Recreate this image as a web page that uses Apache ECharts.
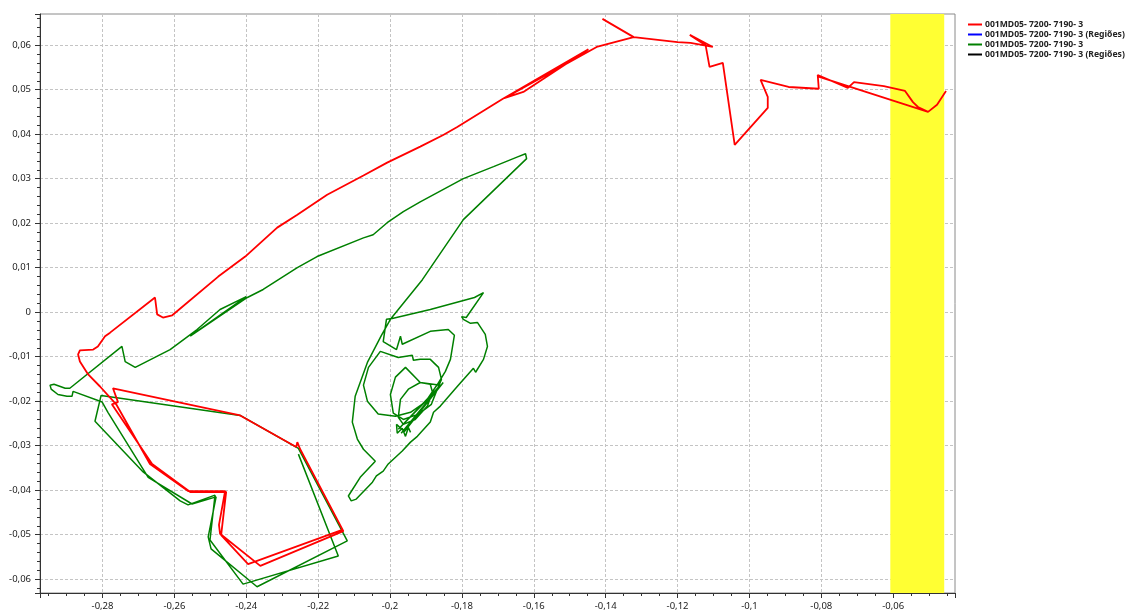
<!DOCTYPE html>
<html>
<head>
<meta charset="utf-8">
<script src="https://cdn.jsdelivr.net/npm/echarts@6/dist/echarts.min.js"></script>
<style>
html,body{margin:0;padding:0;background:#fff;}
#chart{width:1125px;height:611px;}
</style>
</head>
<body>
<div id="chart"></div>
<script>
// ---- data ----
const seriesNames = [
  '001MD05- 7200- 7190- 3',
  '001MD05- 7200- 7190- 3 (Regiões)',
  '001MD05- 7200- 7190- 3',
  '001MD05- 7200- 7190- 3 (Regiões)'
];
const seriesColors = ['#ff0000', '#0000ff', '#008000', '#000000'];
const xRange = [-0.2974, -0.0428];
const yRange = [-0.0631, 0.0670];
const regionX = [-0.0608, -0.0458];

const redPath = [
  [-0.2133,-0.0489],[-0.2395,-0.0566],[-0.2470,-0.0501],[-0.2456,-0.0404],[-0.2556,-0.0404],
  [-0.2662,-0.0341],[-0.2774,-0.0207],[-0.2757,-0.0202],[-0.2771,-0.0171],[-0.2417,-0.0232],
  [-0.2261,-0.0303],[-0.2258,-0.0292],[-0.2250,-0.0308],[-0.2130,-0.0492],[-0.2361,-0.0570],
  [-0.2473,-0.0498],[-0.2476,-0.0478],[-0.2459,-0.0402],[-0.2562,-0.0402],[-0.2668,-0.0341],
  [-0.2762,-0.0207],[-0.2807,-0.0167],[-0.2840,-0.0140],[-0.2863,-0.0111],[-0.2868,-0.0095],
  [-0.2863,-0.0086],[-0.2826,-0.0084],[-0.2813,-0.0077],[-0.2793,-0.0054],[-0.2779,-0.0046],
  [-0.2654,0.0033],[-0.2648,-0.0005],[-0.2632,-0.0012],[-0.2606,-0.0007],[-0.2478,0.0080],
  [-0.2403,0.0125],[-0.2314,0.0190],[-0.2258,0.0219],[-0.2175,0.0264],[-0.2074,0.0307],
  [-0.2008,0.0336],[-0.1916,0.0372],[-0.1852,0.0398],[-0.1813,0.0416],[-0.1687,0.0479],
  [-0.1448,0.0591],[-0.1629,0.0495],[-0.1682,0.0481],[-0.1425,0.0596],[-0.1322,0.0618],
  [-0.1409,0.0659],[-0.1322,0.0618],[-0.1200,0.0607],[-0.1164,0.0605],[-0.1102,0.0596],
  [-0.1166,0.0623],[-0.1122,0.0600],[-0.1111,0.0551],[-0.1074,0.0560],[-0.1041,0.0376],
  [-0.0949,0.0459],[-0.0949,0.0484],[-0.0969,0.0522],[-0.0891,0.0506],[-0.0807,0.0502],
  [-0.0810,0.0533],[-0.0726,0.0504],[-0.0709,0.0517],[-0.0626,0.0508],[-0.0567,0.0497],
  [-0.0545,0.0472],[-0.0531,0.0461],[-0.0503,0.0450],[-0.0810,0.0530],[-0.0503,0.0450],
  [-0.0478,0.0466],[-0.0453,0.0497]
];

const greenPath = [
  [-0.2255,-0.0319],[-0.2144,-0.0548],[-0.2409,-0.0611],[-0.2501,-0.0512],[-0.2487,-0.0411],
  [-0.2562,-0.0433],[-0.2584,-0.0424],[-0.2687,-0.0359],[-0.2821,-0.0245],[-0.2804,-0.0187],
  [-0.2417,-0.0232],[-0.2255,-0.0306],[-0.2119,-0.0514],[-0.2370,-0.0617],[-0.2498,-0.0532],
  [-0.2506,-0.0505],[-0.2484,-0.0415],[-0.2551,-0.0431],[-0.2673,-0.0371],[-0.2785,-0.0225],
  [-0.2801,-0.0202],[-0.2882,-0.0178],[-0.2885,-0.0189],[-0.2899,-0.0189],[-0.2924,-0.0185],
  [-0.2943,-0.0173],[-0.2946,-0.0164],[-0.2935,-0.0162],[-0.2904,-0.0171],[-0.2891,-0.0171],
  [-0.2746,-0.0077],[-0.2737,-0.0111],[-0.2709,-0.0124],[-0.2612,-0.0084],[-0.2537,-0.0039],
  [-0.2473,0.0006],[-0.2400,0.0035],[-0.2556,-0.0054],[-0.2397,0.0033],[-0.2353,0.0051],
  [-0.2258,0.0100],[-0.2203,0.0125],[-0.2074,0.0167],[-0.2047,0.0174],[-0.2008,0.0201],
  [-0.1963,0.0226],[-0.1916,0.0248],[-0.1796,0.0300],[-0.1712,0.0327],[-0.1645,0.0349],
  [-0.1623,0.0356],[-0.1620,0.0345],[-0.1796,0.0208],[-0.1910,0.0073],[-0.1999,-0.0016],
  [-0.2024,-0.0052],[-0.2063,-0.0113],[-0.2097,-0.0189],[-0.2105,-0.0247],[-0.2091,-0.0285],
  [-0.2074,-0.0308],[-0.2041,-0.0335],[-0.2083,-0.0371],[-0.2116,-0.0413],[-0.2108,-0.0424],
  [-0.2094,-0.0420],[-0.2049,-0.0382],[-0.2038,-0.0368],[-0.2019,-0.0357],[-0.2005,-0.0341],
  [-0.1966,-0.0312],[-0.1943,-0.0292],[-0.1924,-0.0279],[-0.1888,-0.0247],[-0.1879,-0.0225],
  [-0.1860,-0.0211],[-0.1813,-0.0167],[-0.1768,-0.0126],[-0.1762,-0.0135],[-0.1740,-0.0106],
  [-0.1729,-0.0077],[-0.1735,-0.0050],[-0.1757,-0.0023],[-0.1776,-0.0025],[-0.1796,-0.0016],
  [-0.1801,-0.0010],[-0.1788,-0.0012],[-0.1740,0.0044],[-0.1765,0.0033],[-0.1888,0.0006],
  [-0.1994,-0.0014],[-0.2010,-0.0016],[-0.2019,-0.0066],[-0.1982,-0.0084],[-0.1971,-0.0054],
  [-0.1966,-0.0072],[-0.1888,-0.0043],[-0.1838,-0.0039],[-0.1821,-0.0052],[-0.1832,-0.0106],
  [-0.1846,-0.0133],[-0.1868,-0.0162],[-0.1902,-0.0202],[-0.1943,-0.0225],[-0.1985,-0.0234],
  [-0.2033,-0.0229],[-0.2063,-0.0200],[-0.2074,-0.0164],[-0.2060,-0.0124],[-0.2027,-0.0088],
  [-0.1977,-0.0102],[-0.1938,-0.0097],[-0.1935,-0.0108],[-0.1916,-0.0106],[-0.1888,-0.0106],
  [-0.1865,-0.0124],[-0.1857,-0.0151],[-0.1871,-0.0178],[-0.1885,-0.0207],[-0.1921,-0.0229],
  [-0.1963,-0.0241],[-0.1991,-0.0227],[-0.1999,-0.0185],[-0.1985,-0.0146],[-0.1957,-0.0124],
  [-0.1916,-0.0158],[-0.1888,-0.0162],[-0.1882,-0.0180],[-0.1896,-0.0211],[-0.1930,-0.0241],
  [-0.1963,-0.0252],[-0.1977,-0.0236],[-0.1971,-0.0196],[-0.1949,-0.0173],[-0.1916,-0.0158],
  [-0.1860,-0.0164],[-0.1977,-0.0263],[-0.1868,-0.0173],[-0.1969,-0.0272],[-0.1852,-0.0158],
  [-0.1960,-0.0268],[-0.1982,-0.0252],[-0.1980,-0.0272],[-0.1966,-0.0261],[-0.1957,-0.0279],
  [-0.1949,-0.0259],[-0.1943,-0.0270]
];
const bluePath = [];
const blackPath = [];

// ---- chart ----
const fmt = v => {
  const r = Math.round(v * 1000) / 1000;
  return (r === 0 ? '0' : String(r)).replace('.', ',');
};
const labelFont = {fontFamily: 'Noto Sans', fontSize: 9.5, color: '#222'};

const chart = echarts.init(document.getElementById('chart'), null, {renderer: 'canvas'});
chart.setOption({
  animation: false,
  backgroundColor: '#ffffff',
  grid: {left: 40, top: 14, right: 170, bottom: 17, show: true, borderColor: '#8a8a8a', borderWidth: 1, containLabel: false},
  legend: {
    orient: 'vertical', left: 968, top: 20, padding: 0, itemWidth: 14, itemHeight: 2, itemGap: 1,
    icon: 'rect',
    textStyle: {fontFamily: 'Noto Sans', fontSize: 8.6, fontWeight: 'bold', color: '#222', lineHeight: 8.2, padding: [0,0,0,-2]},
    data: ['S0', 'S1', 'S2', 'S3'],
    formatter: n => seriesNames[+n.slice(1)],
    selectedMode: false
  },
  xAxis: {
    type: 'value', min: xRange[0], max: xRange[1], splitNumber: 13,
    axisLine: {show: true, onZero: false, lineStyle: {color: '#333', width: 1}},
    axisTick: {show: true, length: 5, lineStyle: {color: '#333'}},
    minorTick: {show: true, splitNumber: 4, length: 3, lineStyle: {color: '#333'}},
    axisLabel: Object.assign({margin: 8, showMinLabel: false, showMaxLabel: false, formatter: fmt}, labelFont),
    splitLine: {show: true, lineStyle: {color: '#c4c4c4', type: [3, 2], width: 1}}
  },
  yAxis: {
    type: 'value', min: yRange[0], max: yRange[1], splitNumber: 13,
    axisLine: {show: true, onZero: false, lineStyle: {color: '#333', width: 1}},
    axisTick: {show: true, length: 5, lineStyle: {color: '#333'}},
    minorTick: {show: true, splitNumber: 5, length: 3, lineStyle: {color: '#333'}},
    axisLabel: Object.assign({margin: 9, showMinLabel: false, showMaxLabel: false, formatter: fmt}, labelFont),
    splitLine: {show: true, lineStyle: {color: '#c4c4c4', type: [3, 2], width: 1}}
  },
  series: [
    {name: 'S0', type: 'line', data: redPath, symbol: 'none', z: 4,
     lineStyle: {color: seriesColors[0], width: 1.8}, itemStyle: {color: seriesColors[0]}},
    {name: 'S1', type: 'line', data: bluePath, symbol: 'none', z: 1,
     lineStyle: {color: seriesColors[1], width: 1.8}, itemStyle: {color: seriesColors[1]},
     markArea: {silent: true, itemStyle: {color: '#ffff33', opacity: 1},
       data: [[{xAxis: regionX[0]}, {xAxis: regionX[1]}]]}},
    {name: 'S2', type: 'line', data: greenPath, symbol: 'none', z: 3,
     lineStyle: {color: seriesColors[2], width: 1.5}, itemStyle: {color: seriesColors[2]}},
    {name: 'S3', type: 'line', data: blackPath, symbol: 'none', z: 2,
     lineStyle: {color: seriesColors[3], width: 1.8}, itemStyle: {color: seriesColors[3]}}
  ]
});
</script>
</body>
</html>
